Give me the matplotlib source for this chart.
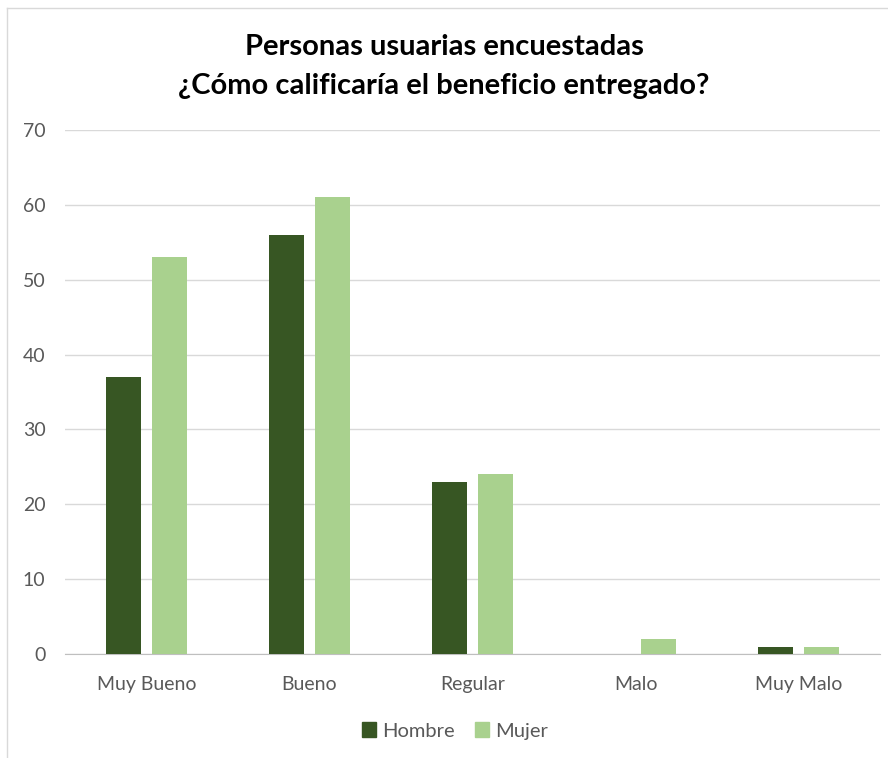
import matplotlib
matplotlib.use("Agg")
import matplotlib.pyplot as plt
import numpy as np
from matplotlib.lines import Line2D

categories = ["Muy Bueno", "Bueno", "Regular", "Malo", "Muy Malo"]
hombre = [37, 56, 23, 0, 1]
mujer = [53, 61, 24, 2, 1]
series_names = ["Hombre", "Mujer"]
colors = ["#375623", "#A9D18E"]

plt.rcParams['font.family'] = ['Lato', 'DejaVu Sans']

fig = plt.figure(figsize=(8.88, 7.58), dpi=100)
ax = fig.add_axes([0.0732, 0.1372, 0.9178, 0.6913])

x = np.arange(len(categories))
w = 0.22
off = 0.141
ax.bar(x - off, hombre, w, color=colors[0], label=series_names[0], zorder=3)
ax.bar(x + off, mujer, w, color=colors[1], label=series_names[1], zorder=3)

ax.set_xlim(-0.5, len(categories) - 0.5)
ax.set_ylim(0, 70)
ax.set_yticks(range(0, 71, 10))
ax.yaxis.grid(True, color="#D9D9D9", linewidth=1, zorder=0)
ax.set_axisbelow(True)
for s in ["top", "right", "left"]:
    ax.spines[s].set_visible(False)
ax.spines["bottom"].set_color("#BFBFBF")
ax.tick_params(axis="both", length=0, colors="#595959", labelsize=14)
ax.tick_params(axis="y", pad=14)
ax.tick_params(axis="x", pad=16)
ax.set_xticks(x)
ax.set_xticklabels(categories)

fig.text(0.5, 1 - 47 / 758, "Personas usuarias encuestadas", ha="center", va="center",
         fontsize=21, fontweight="bold", color="#000000")
fig.text(0.5, 1 - 86 / 758, "¿Cómo calificaría el beneficio entregado?", ha="center", va="center",
         fontsize=21, fontweight="bold", color="#000000")

handles = [plt.Rectangle((0, 0), 1, 1, color=c) for c in colors]
fig.legend(handles, series_names, loc="center", bbox_to_anchor=(0.512, 1 - 731 / 758),
           ncol=2, frameon=False, fontsize=14.5, handlelength=0.7, handleheight=0.7,
           handletextpad=0.3, columnspacing=1.0, labelcolor="#595959")

# partial chart border
fig.add_artist(Line2D([7 / 888, 7 / 888], [0, 1 - 8 / 758], transform=fig.transFigure,
                      color="#D9D9D9", linewidth=1))
fig.add_artist(Line2D([7 / 888, 1], [1 - 8 / 758, 1 - 8 / 758], transform=fig.transFigure,
                      color="#D9D9D9", linewidth=1))

fig.savefig("out.png", dpi=100)
